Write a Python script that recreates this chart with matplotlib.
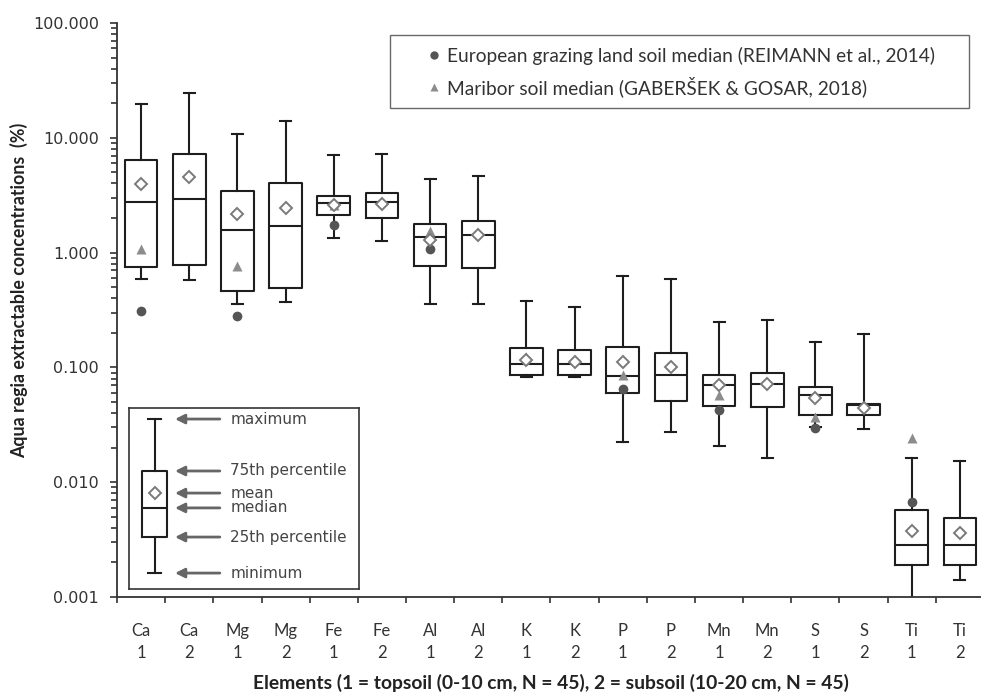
import numpy as np
import matplotlib.pyplot as plt
from matplotlib.lines import Line2D
from matplotlib.ticker import LogLocator, StrMethodFormatter, NullFormatter

nan = np.nan

# element / soil layer of each box
elements = ["Ca", "Ca", "Mg", "Mg", "Fe", "Fe", "Al", "Al", "K", "K",
            "P", "P", "Mn", "Mn", "S", "S", "Ti", "Ti"]
layers = [1, 2] * 9

# box statistics (%)
whis_lo = [0.593, 0.573, 0.358, 0.368, 1.34, 1.25, 0.358, 0.358, 0.0819, 0.0819,
           0.0225, 0.0271, 0.0205, 0.0164, 0.030, 0.0288, 0.0009, 0.00142]
q1 = [0.755, 0.785, 0.459, 0.491, 2.13, 2.00, 0.759, 0.734, 0.0865, 0.0865,
      0.0594, 0.0506, 0.0462, 0.0448, 0.0385, 0.0385, 0.0019, 0.0019]
median = [2.75, 2.92, 1.56, 1.71, 2.68, 2.75, 1.38, 1.42, 0.108, 0.108,
          0.0835, 0.0858, 0.0697, 0.0723, 0.058, 0.047, 0.00283, 0.00283]
q3 = [6.36, 7.22, 3.41, 4.01, 3.10, 3.30, 1.76, 1.88, 0.148, 0.143,
      0.152, 0.1346, 0.0865, 0.0896, 0.0675, 0.048, 0.00569, 0.00485]
whis_hi = [19.7, 24.6, 10.9, 14.0, 7.03, 7.22, 4.36, 4.64, 0.378, 0.333,
           0.629, 0.588, 0.251, 0.258, 0.168, 0.196, 0.0164, 0.0153]
mean = [3.97, 4.52, 2.19, 2.47, 2.62, 2.64, 1.30, 1.42, 0.115, 0.112,
        0.112, 0.1016, 0.070, 0.072, 0.054, 0.0445, 0.00376, 0.00363]

# reference medians (topsoil only)
eu_median = [0.307, nan, 0.282, nan, 1.73, nan, 1.08, nan, 0.117, nan,
             0.0644, nan, 0.0426, nan, 0.0294, nan, 0.00668, nan]
mb_median = [1.08, nan, 0.764, nan, 2.58, nan, 1.55, nan, 0.122, nan,
             0.0853, nan, 0.058, nan, 0.0372, nan, 0.0242, nan]

eu_label = "European grazing land soil median (REIMANN et al., 2014)"
mb_label = "Maribor soil median (GABERŠEK & GOSAR, 2018)"

# explanation box (schematic, axes fraction)
key_stats = dict(whislo=0.088, q1=0.287, med=0.448, q3=0.652, whishi=0.939, mean=0.53)
key_labels = ["maximum", "75th percentile", "mean", "median", "25th percentile", "minimum"]
key_levels = [0.939, 0.652, 0.53, 0.448, 0.287, 0.088]

W, H = 981, 695
fig = plt.figure(figsize=(W / 100, H / 100), dpi=100)
ax = fig.add_axes([117 / W, 98 / H, 867 / W, 574 / H])

box_col = "#1e1e1e"
lw = 1.5
pos = np.arange(1, len(elements) + 1)
stats = [dict(whislo=whis_lo[i], q1=q1[i], med=median[i], q3=q3[i],
              whishi=whis_hi[i], fliers=[]) for i in range(len(elements))]
ax.bxp(stats, positions=pos, widths=0.68, capwidths=0.23, showfliers=False,
       boxprops=dict(color=box_col, lw=lw), whiskerprops=dict(color=box_col, lw=lw),
       capprops=dict(color=box_col, lw=lw), medianprops=dict(color=box_col, lw=lw))

ax.plot(pos, eu_median, "o", ms=7, color="#555555", mec="none", zorder=4)
ax.plot(pos, mb_median, "^", ms=7, color="#8c8c8c", mec="none", zorder=4)
ax.plot(pos, mean, "D", ms=6.5, mfc="white", mec="#7a7a7a", mew=1.4, zorder=5)

ax.set_yscale("log")
ax.set_ylim(1e-3, 1e2)
ax.set_xlim(0.5, len(elements) + 0.5)
ax.yaxis.set_major_locator(LogLocator(10, numticks=10))
ax.yaxis.set_minor_locator(LogLocator(10, subs=np.arange(2, 10), numticks=50))
ax.yaxis.set_major_formatter(StrMethodFormatter("{x:.3f}"))
ax.yaxis.set_minor_formatter(NullFormatter())

ax.set_xticks(pos, [f"{e}\n{l}" for e, l in zip(elements, layers)])
ax.set_xticks(np.arange(0.5, len(elements)), minor=True)
for t in ax.get_xticklabels():
    t.set_family("Lato")
    t.set_linespacing(1.45)
ax.tick_params(axis="x", which="major", length=0, pad=19, labelsize=12, labelcolor="#333333")
ax.tick_params(axis="x", which="minor", length=4.5, width=1.2, color="#333333")
ax.tick_params(axis="y", which="major", length=5, width=1.2, pad=8, labelsize=11.5,
               labelcolor="#333333", color="#333333")
ax.tick_params(axis="y", which="minor", length=4, width=1.2, color="#333333")

for s in ["top", "right"]:
    ax.spines[s].set_visible(False)
for s in ["left", "bottom"]:
    ax.spines[s].set_color("#333333")
    ax.spines[s].set_linewidth(1.3)

ax.set_ylabel("Aqua regia extractable concentrations  (%)", family="Lato", fontweight="bold",
              fontsize=12.8, color="#222222", va="center", ha="center")
ax.yaxis.set_label_coords(-0.113, 0.535)
ax.set_xlabel("Elements (1 = topsoil (0-10 cm, N = 45), 2 = subsoil (10-20 cm, N = 45)",
              family="Lato", fontweight="bold", fontsize=13.9, color="#222222", va="center")
ax.xaxis.set_label_coords(0.5, -0.15)

handles = [Line2D([], [], ls="none", marker="o", ms=6, color="#555555", mec="none"),
           Line2D([], [], ls="none", marker="^", ms=5.5, color="#8c8c8c", mec="none")]
leg = ax.legend(handles, [eu_label, mb_label], loc="upper left", mode="expand",
                bbox_to_anchor=(390 / W, 1 - 109 / H, 579 / W, 74 / H),
                bbox_transform=fig.transFigure, borderaxespad=0, borderpad=0.6,
                handlelength=3.4, handletextpad=-1.05, labelspacing=0.6,
                frameon=True, fancybox=False, edgecolor="#444444",
                prop=dict(family="Lato", size=13.8))
leg.get_frame().set_linewidth(1.0)
for t in leg.get_texts():
    t.set_color("#333333")

# explanation inset
kx = ax.inset_axes([(129 - 117) / 867, (597 - 589) / 574, 230 / 867, 181 / 574])
kx.bxp([dict(key_stats, fliers=[])], positions=[0.111], widths=0.109, capwidths=0.06,
       showfliers=False, manage_ticks=False, boxprops=dict(color=box_col, lw=lw),
       whiskerprops=dict(color=box_col, lw=lw), capprops=dict(color=box_col, lw=lw),
       medianprops=dict(color=box_col, lw=lw))
kx.plot([0.111], [key_stats["mean"]], "D", ms=6.5, mfc="white", mec="#7a7a7a", mew=1.4)
kx.set_xlim(0, 1)
kx.set_ylim(0, 1)
kx.set_xticks([])
kx.set_yticks([])
for s in kx.spines.values():
    s.set_color("#333333")
    s.set_linewidth(1.2)
for lab, lev in zip(key_labels, key_levels):
    kx.annotate("", xy=(0.2, lev), xytext=(0.395, lev),
                arrowprops=dict(arrowstyle="-|>", color="#666666", lw=2, mutation_scale=14,
                                shrinkA=0, shrinkB=0))
    kx.text(0.44, lev, lab, va="center", ha="left", fontsize=11, color="#444444",
            family="DejaVu Sans")

fig.savefig("out.png", dpi=100)
